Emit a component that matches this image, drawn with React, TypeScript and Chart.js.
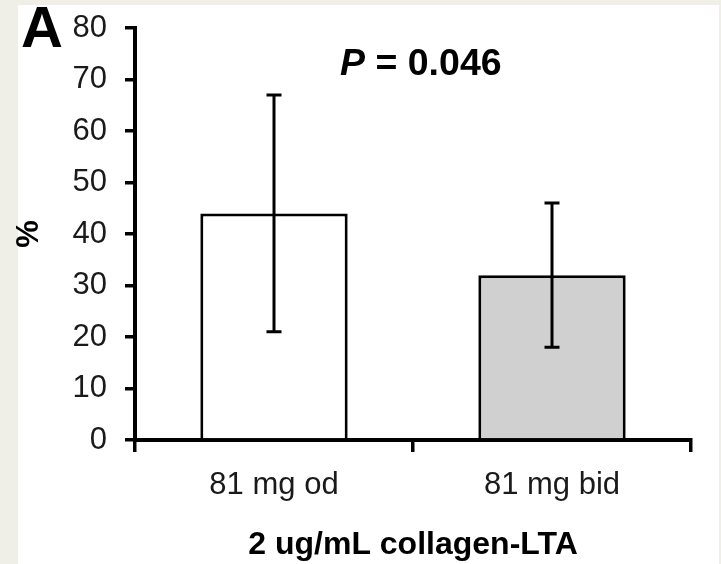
import React, { useEffect, useRef } from "react";
import { Chart, registerables } from "chart.js";

Chart.register(...registerables);

// Platelet aggregation (%) with 2 ug/mL collagen-LTA, by aspirin regimen
const categories = ["81 mg od", "81 mg bid"];
const means = [44, 32];
const errLow = [21, 18];
const errHigh = [67, 46];
const barFills = ["#ffffff", "#d0d0d0"];
const yMin = 0;
const yMax = 80;
const yStep = 10;
const pValue = "0.046";
const panelLetter = "A";
const xTitle = "2 ug/mL collagen-LTA";
const yTitle = "%";

const FONT = "'Liberation Sans', Arial, Helvetica, sans-serif";

const backgroundPlugin = {
  id: "panelBackground",
  beforeDraw(chart: any) {
    const { ctx, width, height } = chart;
    ctx.save();
    ctx.fillStyle = "#efefe7";
    ctx.fillRect(0, 0, width, height);
    ctx.fillStyle = "#ffffff";
    ctx.fillRect(18, 5, 701, height - 5);
    ctx.restore();
  },
};

const errorBarPlugin = {
  id: "errorBars",
  afterDatasetsDraw(chart: any) {
    const { ctx } = chart;
    const meta = chart.getDatasetMeta(0);
    const y = chart.scales.y;
    ctx.save();
    ctx.strokeStyle = "#000";
    ctx.lineWidth = 3;
    meta.data.forEach((bar: any, i: number) => {
      const x = bar.x;
      const top = y.getPixelForValue(errHigh[i]);
      const bottom = y.getPixelForValue(errLow[i]);
      const cap = 7.5;
      ctx.beginPath();
      ctx.moveTo(x, top);
      ctx.lineTo(x, bottom);
      ctx.moveTo(x - cap, top);
      ctx.lineTo(x + cap, top);
      ctx.moveTo(x - cap, bottom);
      ctx.lineTo(x + cap, bottom);
      ctx.stroke();
    });
    ctx.restore();
  },
  afterDraw(chart: any) {
    const { ctx } = chart;
    ctx.save();
    ctx.fillStyle = "#000";
    ctx.textBaseline = "alphabetic";
    ctx.textAlign = "left";
    // panel letter
    ctx.font = `bold 58px ${FONT}`;
    ctx.fillText(panelLetter, 21, 47);
    // significance label
    let x = 340;
    const base = 75;
    ctx.font = `italic bold 37.5px ${FONT}`;
    ctx.fillText("P", x, base);
    x += ctx.measureText("P").width;
    ctx.font = `bold 37.5px ${FONT}`;
    ctx.fillText(` = ${pValue}`, x, base);
    ctx.restore();
  },
};

export default function App() {
  const canvasRef = useRef<HTMLCanvasElement | null>(null);

  useEffect(() => {
    if (!canvasRef.current) return;
    const chart = new Chart(canvasRef.current, {
      type: "bar",
      data: {
        labels: categories,
        datasets: [
          {
            data: means,
            backgroundColor: barFills,
            borderColor: "#000",
            borderWidth: 3,
            borderSkipped: "bottom",
            categoryPercentage: 1,
            barPercentage: 0.53,
          },
        ],
      },
      options: {
        responsive: false,
        animation: false,
        devicePixelRatio: 1,
        layout: { padding: { left: 0, right: 30, top: 28, bottom: 0 } },
        plugins: {
          legend: { display: false },
          tooltip: { enabled: false },
        },
        scales: {
          x: {
            grid: {
              drawOnChartArea: false,
              drawTicks: true,
              tickLength: 12,
              color: "#000",
              lineWidth: 3.5,
              offset: true,
            },
            border: { color: "#000", width: 4 },
            ticks: {
              color: "#1a1a1a",
              font: { family: FONT, size: 31 },
              padding: 15,
              maxRotation: 0,
            },
            title: {
              display: true,
              text: xTitle,
              color: "#000",
              font: { family: FONT, size: 32, weight: "bold" },
              padding: { top: 0, bottom: 0 },
            },
            afterFit(scale: any) {
              scale.height = 124;
            },
          },
          y: {
            min: yMin,
            max: yMax,
            grid: {
              drawOnChartArea: false,
              drawTicks: true,
              tickLength: 10,
              color: "#000",
              lineWidth: 3.5,
            },
            border: { color: "#000", width: 4 },
            ticks: {
              stepSize: yStep,
              color: "#1a1a1a",
              font: { family: FONT, size: 31 },
              padding: 18,
            },
            title: {
              display: true,
              text: yTitle,
              color: "#000",
              font: { family: FONT, size: 31, weight: "bold" },
              padding: { top: 11, bottom: 0 },
            },
            afterFit(scale: any) {
              scale.width = 135;
              scale.paddingTop = 0;
              scale.paddingBottom = 0;
            },
          },
        },
      },
      plugins: [backgroundPlugin, errorBarPlugin],
    });
    return () => chart.destroy();
  }, []);

  return (
    <div style={{ position: "fixed", left: 0, top: 0, width: 721, height: 564 }}>
      <canvas ref={canvasRef} width={721} height={564} style={{ display: "block" }} />
    </div>
  );
}
